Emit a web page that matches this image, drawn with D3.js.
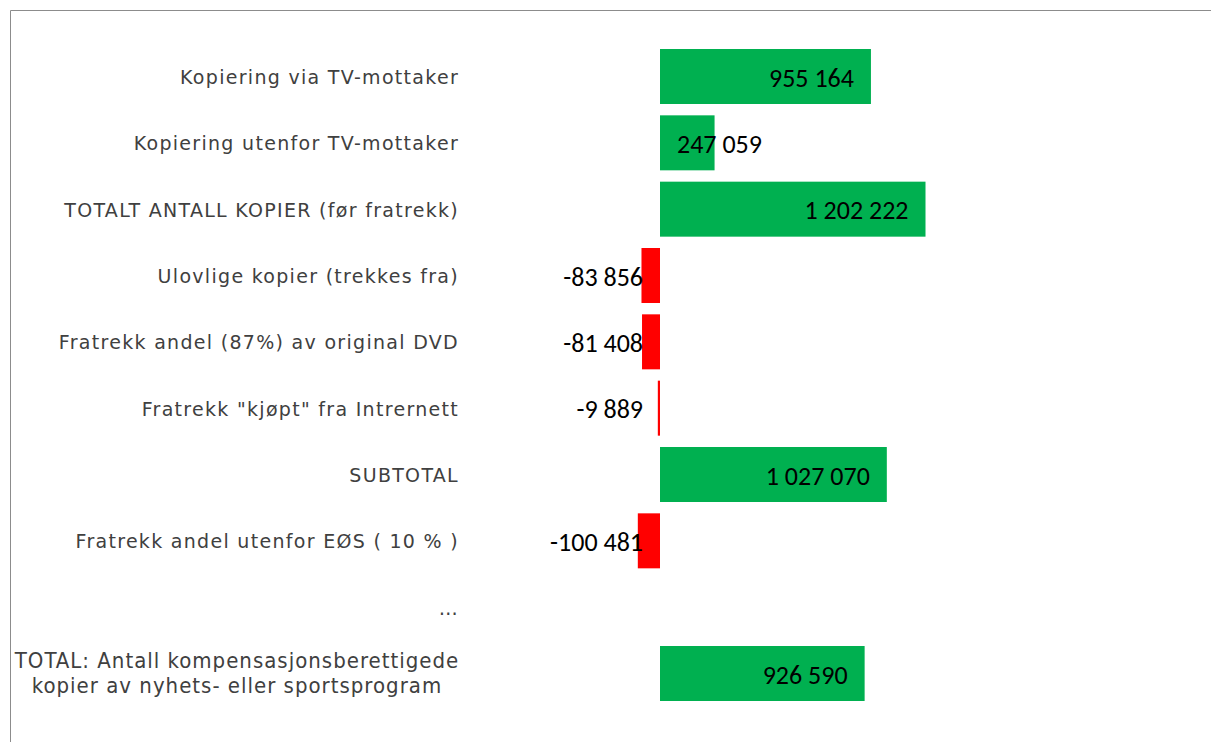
<!DOCTYPE html>
<meta charset="utf-8">
<style>
body { margin: 0; background: #fff; }
.cat { font-family: "DejaVu Sans", Verdana, sans-serif; font-size: 19px; letter-spacing: 1.3px; fill: #404040; }
.cat2 { font-family: "DejaVu Sans Condensed", "DejaVu Sans", sans-serif; font-size: 22px; letter-spacing: 1px; fill: #404040; }
.val { font-family: Calibri, Carlito, Lato, sans-serif; font-size: 26px; fill: #000; }
</style>
<body>
<script src="https://d3js.org/d3.v7.min.js"></script>
<script>

// categories and values
var categories = [
  "Kopiering via TV-mottaker",
  "Kopiering utenfor TV-mottaker",
  "TOTALT ANTALL KOPIER (før fratrekk)",
  "Ulovlige kopier (trekkes fra)",
  "Fratrekk andel (87%) av original DVD",
  "Fratrekk \"kjøpt\" fra Intrernett",
  "SUBTOTAL",
  "Fratrekk andel utenfor EØS ( 10 % )",
  "…",
  "TOTAL: Antall kompensasjonsberettigede|kopier av nyhets- eller sportsprogram"
];
var values = [955164, 247059, 1202222, -83856, -81408, -9889, 1027070, -100481, null, 926590];
var valueLabels = ["955 164", "247 059", "1 202 222", "-83 856", "-81 408", "-9 889", "1 027 070", "-100 481", "", "926 590"];

var W = 1211, H = 742;

var svg = d3.select("body").append("svg")
    .attr("width", W)
    .attr("height", H);

// frame
svg.append("path")
    .attr("d", "M10.5," + H + "V10.5H" + W)
    .attr("fill", "none")
    .attr("stroke", "#8c8c8c")
    .attr("stroke-width", 1);

var x = d3.scaleLinear()
    .domain([0, 1202222])
    .range([660, 925.5]);

var y = d3.scaleBand()
    .domain(d3.range(categories.length))
    .range([49, 701])
    .paddingInner(0.171)
    .paddingOuter(0);

var rows = values.map(function(v, i) { return {i: i, v: v}; })
    .filter(function(d) { return d.v !== null; });

// bars
svg.selectAll(".bar")
    .data(rows)
  .enter().append("rect")
    .attr("class", "bar")
    .attr("x", function(d) { return Math.min(x(0), x(d.v)); })
    .attr("y", function(d) { return y(d.i); })
    .attr("width", function(d) { return Math.max(2, Math.abs(x(d.v) - x(0))); })
    .attr("height", y.bandwidth())
    .attr("fill", function(d) { return d.v < 0 ? "#ff0000" : "#00b050"; });

// value labels
svg.selectAll(".val")
    .data(rows)
  .enter().append("text")
    .attr("class", "val")
    .attr("y", function(d) { return y(d.i) + y.bandwidth() / 2; })
    .attr("dy", "0.385em")
    .attr("x", function(d) {
      if (d.v < 0) return x(0) - 17;
      if (x(d.v) - x(0) < 120) return x(0) + 17;
      return x(d.v) - 17;
    })
    .attr("text-anchor", function(d) {
      return (d.v >= 0 && x(d.v) - x(0) < 120) ? "start" : "end";
    })
    .text(function(d) { return valueLabels[d.i]; });

// category labels
categories.forEach(function(c, i) {
  var cy = y(i) + y.bandwidth() / 2;
  var lines = c.split("|");
  if (lines.length === 1) {
    svg.append("text").attr("class", "cat")
        .attr("x", 459)
        .attr("y", cy)
        .attr("dy", "0.4em")
        .attr("text-anchor", "end")
        .text(c);
  } else {
    var t = svg.append("text").attr("class", "cat2")
        .attr("y", cy - 6)
        .attr("text-anchor", "middle");
    lines.forEach(function(l, k) {
      t.append("tspan")
          .attr("x", 237)
          .attr("dy", k === 0 ? 0 : 25.5)
          .text(l);
    });
  }
});

</script>
</body>
